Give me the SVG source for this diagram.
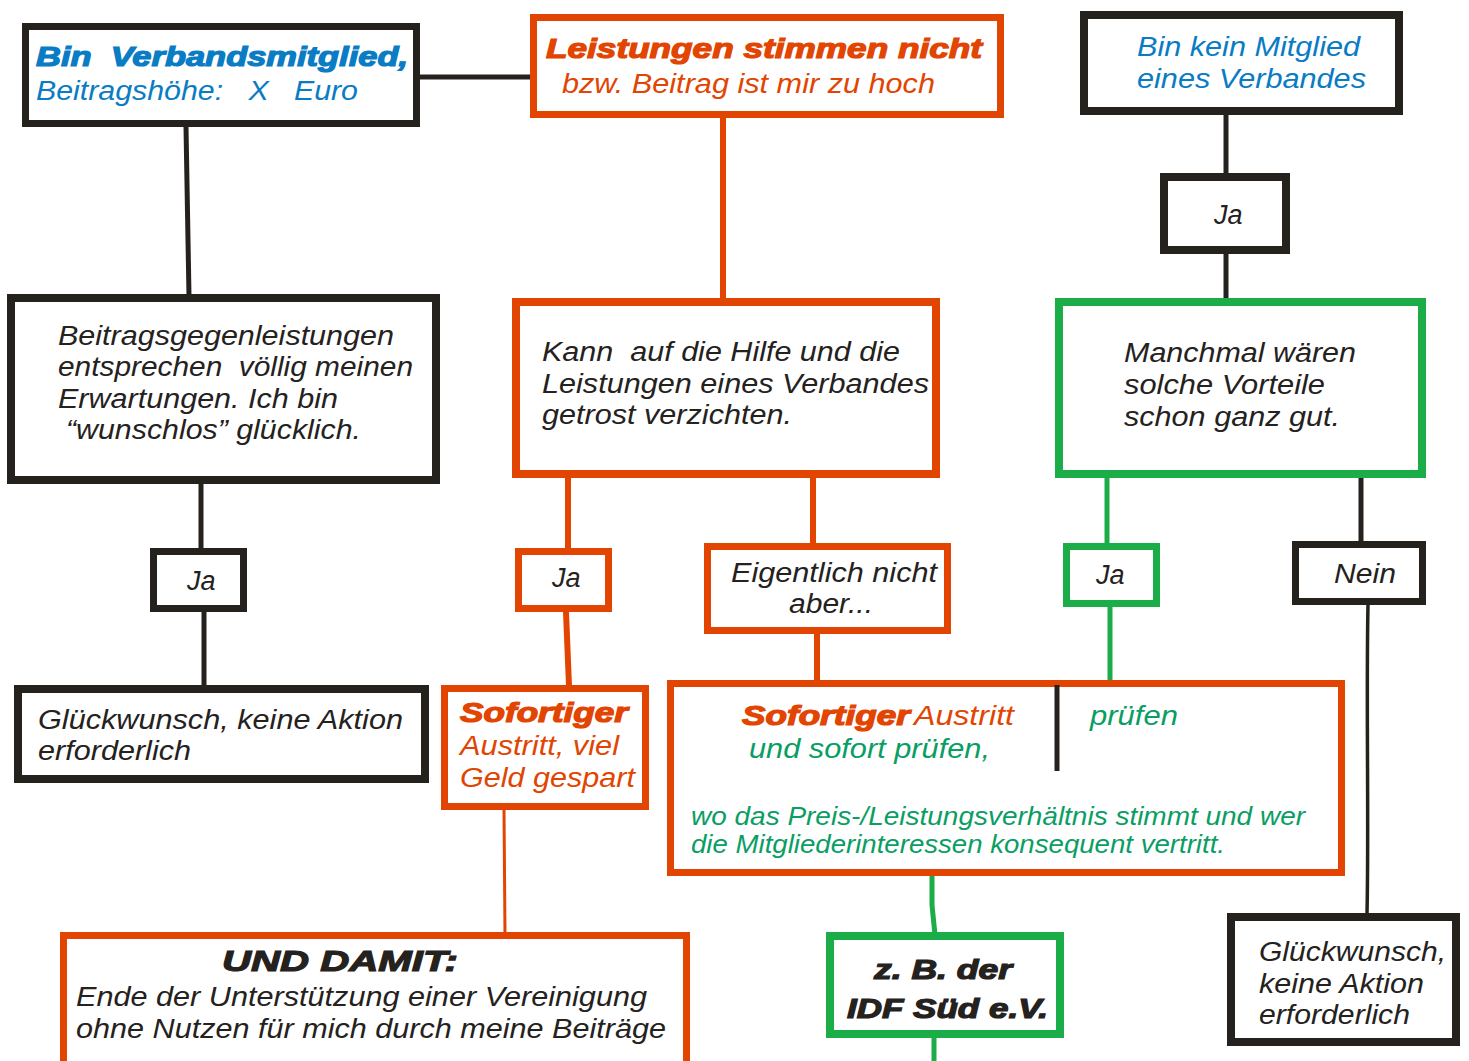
<svg xmlns="http://www.w3.org/2000/svg" width="1469" height="1061" viewBox="0 0 1469 1061">
<style>
.bk{fill:#fff;stroke:#25221e;stroke-width:8}
.or{fill:#fff;stroke:#e24502;stroke-width:7}
.gr{fill:#fff;stroke:#1bae48;stroke-width:8}
.lb{stroke:#25221e;stroke-width:5;fill:none}
.lo{stroke:#e24502;stroke-width:6;fill:none}
.lg{stroke:#1bae48;stroke-width:5;fill:none}
text{font-family:"Liberation Sans",Arial,sans-serif;font-style:italic;font-size:27px}
.t{fill:#25221e}
.b{fill:#0a7cc4}
.o{fill:#e24502}
.g{fill:#0a9e64}
.h{font-weight:bold;stroke-width:1.2px}
.ho{fill:#e24502;stroke:#e24502}
.hb{fill:#0a7cc4;stroke:#0a7cc4}
.hk{fill:#25221e;stroke:#25221e}
</style>
<g id="connectors">
<line class="lb" x1="420" y1="77" x2="532" y2="77"/>
<line class="lb" x1="186" y1="127" x2="189" y2="296"/>
<line class="lb" x1="201" y1="484" x2="201" y2="549"/>
<line class="lb" x1="204" y1="612" x2="204" y2="687"/>
<line class="lo" x1="723" y1="118" x2="723" y2="300"/>
<line class="lo" x1="568" y1="478" x2="568" y2="549"/>
<line class="lo" x1="566" y1="612" x2="569" y2="686"/>
<line class="lo" x1="813" y1="478" x2="813" y2="545"/>
<line class="lo" x1="817" y1="634" x2="817" y2="682"/>
<line class="lo" style="stroke-width:3" x1="504" y1="810" x2="505" y2="935"/>
<line class="lb" x1="1226" y1="115" x2="1226" y2="175"/>
<line class="lb" x1="1226" y1="254" x2="1226" y2="302"/>
<line class="lg" x1="1107" y1="478" x2="1107" y2="546"/>
<line class="lg" x1="1110" y1="607" x2="1110" y2="682"/>
<line class="lb" x1="1361" y1="475" x2="1361" y2="543"/>
<path class="lb" style="stroke-width:3.5" d="M1368 605 C1366 700 1369 820 1367 914"/>
<path class="lg" d="M932 876 L932 905 L935 935"/>
<line class="lg" x1="934" y1="1038" x2="934" y2="1061"/>
</g>
<g id="n1">
<rect class="bk" x="25.5" y="26.5" width="391" height="97" style="stroke-width:7"/>
<text class="h hb" x="36" y="66" textLength="372" lengthAdjust="spacingAndGlyphs" xml:space="preserve">Bin  Verbandsmitglied,</text>
<text class="b" x="36" y="100" textLength="322" lengthAdjust="spacingAndGlyphs" xml:space="preserve">Beitragshöhe:   X   Euro</text>
</g>
<g id="n2">
<rect class="or" x="533.5" y="17.5" width="467" height="97"/>
<text class="h ho" x="546" y="58" textLength="436" lengthAdjust="spacingAndGlyphs">Leistungen stimmen nicht</text>
<text class="o" x="562" y="93" textLength="373" lengthAdjust="spacingAndGlyphs">bzw. Beitrag ist mir zu hoch</text>
</g>
<g id="n3">
<rect class="bk" x="1084" y="15" width="315" height="96"/>
<text class="b" x="1137" y="56" textLength="223" lengthAdjust="spacingAndGlyphs">Bin kein Mitglied</text>
<text class="b" x="1137" y="88" textLength="229" lengthAdjust="spacingAndGlyphs">eines Verbandes</text>
</g>
<g id="n4">
<rect class="bk" x="1164" y="177" width="122" height="73"/>
<text class="t" x="1214" y="224">Ja</text>
</g>
<g id="n5">
<rect class="gr" x="1059" y="302" width="363" height="172"/>
<text class="t" x="1124" y="362" textLength="232" lengthAdjust="spacingAndGlyphs">Manchmal wären</text>
<text class="t" x="1124" y="394" textLength="201" lengthAdjust="spacingAndGlyphs">solche Vorteile</text>
<text class="t" x="1124" y="426" textLength="216" lengthAdjust="spacingAndGlyphs">schon ganz gut.</text>
</g>
<g id="n6">
<rect class="gr" style="stroke-width:7" x="1066.5" y="546.5" width="90" height="57"/>
<text class="t" x="1096" y="584">Ja</text>
</g>
<g id="n7">
<rect class="bk" style="stroke-width:7" x="1295.5" y="544.5" width="127" height="57"/>
<text class="t" x="1334" y="583" textLength="62" lengthAdjust="spacingAndGlyphs">Nein</text>
</g>
<g id="n8">
<rect class="bk" x="1231" y="917" width="225" height="125"/>
<text class="t" x="1259" y="961" textLength="187" lengthAdjust="spacingAndGlyphs">Glückwunsch,</text>
<text class="t" x="1259" y="993" textLength="165" lengthAdjust="spacingAndGlyphs">keine Aktion</text>
<text class="t" x="1259" y="1024" textLength="151" lengthAdjust="spacingAndGlyphs">erforderlich</text>
</g>
<g id="n9">
<rect class="bk" x="11" y="298" width="425" height="182"/>
<text class="t" x="58" y="345" textLength="336" lengthAdjust="spacingAndGlyphs">Beitragsgegenleistungen</text>
<text class="t" x="58" y="376" textLength="355" lengthAdjust="spacingAndGlyphs" xml:space="preserve">entsprechen  völlig meinen</text>
<text class="t" x="58" y="408" textLength="280" lengthAdjust="spacingAndGlyphs">Erwartungen. Ich bin</text>
<text class="t" x="66" y="439" textLength="295" lengthAdjust="spacingAndGlyphs">“wunschlos” glücklich.</text>
</g>
<g id="n10">
<rect class="bk" style="stroke-width:7" x="153.5" y="551.5" width="90" height="57"/>
<text class="t" x="187" y="590">Ja</text>
</g>
<g id="n11">
<rect class="bk" x="18" y="689" width="407" height="90"/>
<text class="t" x="38" y="729" textLength="365" lengthAdjust="spacingAndGlyphs">Glückwunsch, keine Aktion</text>
<text class="t" x="38" y="760" textLength="153" lengthAdjust="spacingAndGlyphs">erforderlich</text>
</g>
<g id="n12">
<rect class="or" style="stroke-width:8" x="516" y="302" width="420" height="172"/>
<text class="t" x="542" y="361" textLength="358" lengthAdjust="spacingAndGlyphs" xml:space="preserve">Kann  auf die Hilfe und die</text>
<text class="t" x="542" y="393" textLength="387" lengthAdjust="spacingAndGlyphs">Leistungen eines Verbandes</text>
<text class="t" x="542" y="424" textLength="250" lengthAdjust="spacingAndGlyphs">getrost verzichten.</text>
</g>
<g id="n13">
<rect class="or" x="518.5" y="551.5" width="90" height="57"/>
<text class="t" x="552" y="587">Ja</text>
</g>
<g id="n14">
<rect class="or" x="444.5" y="688.5" width="201" height="118"/>
<text class="h ho" x="460" y="722" textLength="168" lengthAdjust="spacingAndGlyphs">Sofortiger</text>
<text class="o" x="460" y="755" textLength="159" lengthAdjust="spacingAndGlyphs">Austritt, viel</text>
<text class="o" x="460" y="787" textLength="175" lengthAdjust="spacingAndGlyphs">Geld gespart</text>
</g>
<g id="n15">
<rect class="or" x="707.5" y="546.5" width="240" height="84"/>
<text class="t" x="731" y="582" textLength="206" lengthAdjust="spacingAndGlyphs">Eigentlich nicht</text>
<text class="t" x="789" y="613" textLength="84" lengthAdjust="spacingAndGlyphs">aber...</text>
</g>
<g id="n16">
<rect class="or" x="670.5" y="683.5" width="671" height="189"/>
<line class="lb" x1="1057" y1="685" x2="1057" y2="771"/>
<text class="h ho" x="742" y="725" textLength="168" lengthAdjust="spacingAndGlyphs">Sofortiger</text>
<text class="o" x="914" y="725" textLength="100" lengthAdjust="spacingAndGlyphs">Austritt</text>
<text class="g" x="749" y="758" textLength="241" lengthAdjust="spacingAndGlyphs">und sofort prüfen,</text>
<text class="g" x="1090" y="725" textLength="88" lengthAdjust="spacingAndGlyphs">prüfen</text>
<text class="g" style="font-size:25px" x="691" y="825" textLength="614" lengthAdjust="spacingAndGlyphs">wo das Preis-/Leistungsverhältnis stimmt und wer</text>
<text class="g" style="font-size:25px" x="691" y="853" textLength="534" lengthAdjust="spacingAndGlyphs">die Mitgliederinteressen konsequent vertritt.</text>
</g>
<g id="n17">
<rect class="or" x="63.5" y="935.5" width="623" height="135"/>
<text class="h hk" style="font-size:30px" x="222" y="971" textLength="236" lengthAdjust="spacingAndGlyphs">UND DAMIT:</text>
<text class="t" x="76" y="1006" textLength="571" lengthAdjust="spacingAndGlyphs">Ende der Unterstützung einer Vereinigung</text>
<text class="t" x="76" y="1038" textLength="590" lengthAdjust="spacingAndGlyphs">ohne Nutzen für mich durch meine Beiträge</text>
</g>
<g id="n18">
<rect class="gr" x="830" y="936" width="230" height="98"/>
<text class="h hk" x="874" y="979" textLength="138" lengthAdjust="spacingAndGlyphs">z. B. der</text>
<text class="h hk" x="847" y="1018" textLength="201" lengthAdjust="spacingAndGlyphs">IDF Süd e.V.</text>
</g>
</svg>
